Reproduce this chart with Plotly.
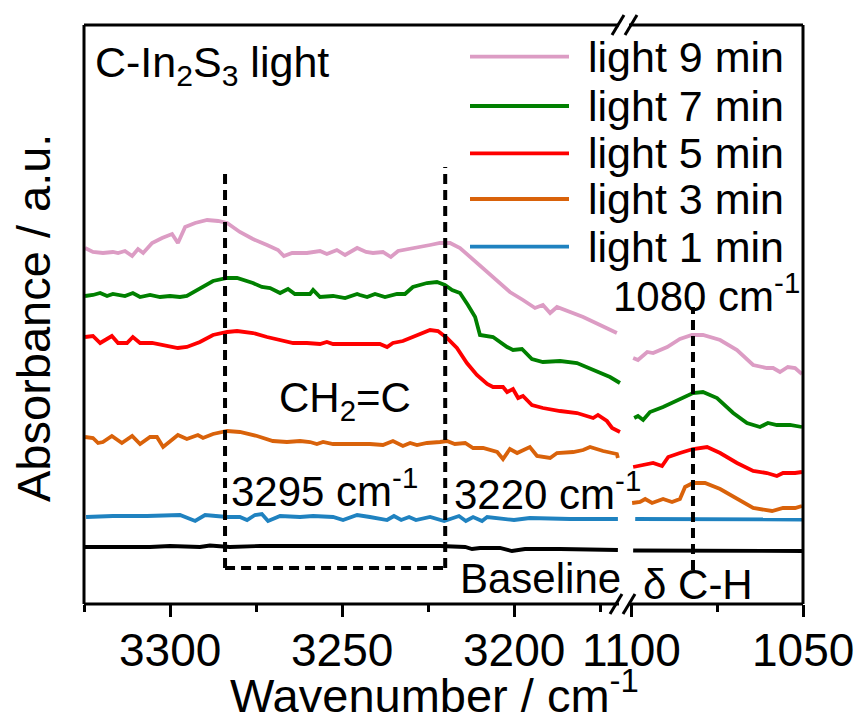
import plotly.graph_objects as go

# ---------------- data (wavenumber / cm-1, absorbance a.u. with offsets) ----------------
# left panel (3325 - 3169 cm-1)
wn9_l = [3324.7, 3322.4, 3319.5, 3316.6, 3315.1, 3313.1, 3311.0, 3309.3, 3307.8, 3305.2, 3302.3, 3299.4,
         3297.7, 3295.6, 3292.7, 3289.2, 3286.0, 3283.4, 3279.7, 3275.9, 3271.8, 3268.6, 3266.9, 3264.5,
         3260.2, 3256.4, 3254.4, 3251.5, 3249.1, 3245.6, 3243.0, 3241.0, 3238.1, 3235.8, 3233.7, 3228.2,
         3224.4, 3221.5, 3218.6, 3215.7, 3210.8, 3206.1, 3201.2, 3197.4, 3193.9, 3191.6, 3189.5, 3187.5,
         3183.7, 3179.9, 3175.0, 3170.1]
ab9_l = [.356, .352, .351, .352, .351, .353, .348, .355, .351, .361, .366, .370, .361, .377, .381, .384,
         .383, .381, .372, .365, .359, .354, .348, .351, .351, .353, .350, .354, .349, .356, .352, .351,
         .352, .347, .353, .356, .359, .361, .361, .356, .341, .326, .312, .304, .296, .299, .291, .297,
         .292, .287, .279, .271]

wn7_l = [3324.7, 3322.4, 3320.3, 3318.3, 3316.6, 3313.1, 3310.8, 3308.7, 3305.8, 3302.9, 3300.0, 3297.1,
         3295.1, 3291.3, 3287.5, 3283.4, 3280.5, 3275.9, 3273.3, 3270.9, 3268.0, 3265.7, 3263.7, 3259.3,
         3258.4, 3256.4, 3252.6, 3249.1, 3245.6, 3244.8, 3242.7, 3240.4, 3237.5, 3234.0, 3231.7, 3229.4,
         3225.3, 3222.4, 3220.1, 3218.0, 3215.7, 3213.4, 3211.3, 3209.9, 3206.1, 3202.0, 3200.3, 3197.7,
         3194.8, 3191.6, 3186.6, 3181.7, 3177.0, 3172.1, 3169.2]
ab7_l = [.308, .309, .311, .308, .310, .308, .311, .307, .309, .307, .308, .307, .308, .316, .323, .326,
         .326, .321, .317, .316, .311, .315, .310, .310, .314, .307, .308, .306, .310, .309, .307, .310,
         .307, .310, .310, .317, .321, .322, .319, .314, .311, .299, .287, .269, .267, .257, .254, .255,
         .245, .242, .243, .241, .234, .227, .221]

wn5_l = [3324.7, 3322.4, 3320.3, 3316.9, 3315.1, 3312.5, 3310.8, 3308.7, 3305.2, 3302.3, 3297.7, 3295.1,
         3291.3, 3287.5, 3283.4, 3280.5, 3275.9, 3271.8, 3268.0, 3264.2, 3260.2, 3256.4, 3254.4, 3252.6,
         3245.6, 3242.7, 3239.0, 3236.9, 3235.2, 3232.3, 3228.2, 3224.4, 3222.1, 3219.5, 3216.6, 3213.7,
         3210.8, 3207.8, 3206.1, 3203.2, 3202.0, 3200.3, 3198.8, 3197.4, 3194.8, 3191.6, 3186.6, 3181.7,
         3177.0, 3175.6, 3173.0, 3171.5, 3169.2]
ab5_l = [.267, .268, .261, .268, .261, .261, .267, .261, .261, .259, .256, .257, .262, .269, .272, .273,
         .271, .267, .264, .261, .261, .260, .262, .260, .260, .260, .260, .257, .261, .263, .269, .274,
         .273, .266, .256, .241, .229, .220, .217, .217, .212, .215, .206, .208, .199, .196, .193, .191,
         .186, .189, .183, .176, .172]

wn3_l = [3324.7, 3322.4, 3320.9, 3319.5, 3316.9, 3314.0, 3311.0, 3308.7, 3305.8, 3303.8, 3302.0, 3297.7,
         3295.1, 3291.9, 3290.4, 3287.5, 3283.4, 3279.7, 3274.7, 3270.1, 3266.0, 3262.2, 3259.3, 3257.3,
         3255.5, 3252.6, 3245.6, 3241.9, 3238.1, 3235.2, 3232.3, 3230.2, 3228.2, 3225.3, 3221.5, 3219.5,
         3217.2, 3214.2, 3211.9, 3209.0, 3204.9, 3203.2, 3201.2, 3199.1, 3195.4, 3193.3, 3189.5, 3187.5,
         3182.8, 3179.9, 3177.9, 3174.1, 3170.1, 3169.8]
ab3_l = [.167, .166, .161, .162, .168, .161, .168, .160, .167, .167, .157, .169, .165, .169, .166, .170,
         .173, .172, .168, .163, .162, .163, .162, .160, .162, .160, .160, .160, .159, .163, .158, .161,
         .159, .161, .162, .163, .160, .161, .156, .156, .152, .145, .155, .151, .157, .148, .146, .151,
         .152, .154, .157, .153, .150, .146]

wn1_l = [3324.4, 3316.6, 3306.7, 3300.0, 3297.1, 3292.7, 3289.8, 3283.4, 3279.7, 3277.6, 3275.3, 3273.3,
         3271.5, 3268.0, 3262.2, 3258.4, 3252.6, 3249.7, 3245.6, 3241.9, 3236.9, 3234.9, 3232.8, 3230.5,
         3228.5, 3224.4, 3220.3, 3216.0, 3214.0, 3211.9, 3209.3, 3207.8, 3200.0, 3195.4, 3183.7, 3169.8]
ab1_l = [.087, .088, .088, .089, .089, .083, .089, .087, .087, .084, .089, .090, .083, .088, .087, .088,
         .087, .084, .089, .087, .084, .088, .084, .087, .084, .087, .083, .088, .083, .087, .083, .087,
         .084, .086, .085, .085]

wn0_l = [3324.7, 3305.8, 3300.0, 3291.3, 3288.4, 3282.6, 3273.8, 3262.2, 3253.5, 3244.8, 3233.1, 3221.5,
         3214.2, 3212.2, 3209.9, 3204.1, 3200.6, 3196.8, 3186.6, 3175.0, 3169.8]
ab0_l = [.057, .057, .058, .057, .0585, .057, .058, .058, .0575, .058, .0575, .058, .057, .055, .056,
         .056, .053, .055, .055, .054, .054]

# right panel (1101 - 1050 cm-1)
wn9_r = [1099.4, 1098.0, 1095.3, 1093.6, 1089.5, 1085.8, 1082.3, 1079.1, 1074.1, 1069.2, 1064.5, 1060.5,
         1058.7, 1056.7, 1054.4, 1052.3, 1050.3]
ab9_r = [.246, .244, .252, .251, .257, .265, .269, .269, .264, .254, .239, .236, .236, .232, .237, .236, .230]

wn7_r = [1099.1, 1098.0, 1096.5, 1094.5, 1090.7, 1085.8, 1082.0, 1079.1, 1075.0, 1070.3, 1066.3, 1062.5,
         1060.2, 1057.6, 1053.8, 1050.3]
ab7_r = [.186, .188, .184, .192, .197, .205, .211, .212, .206, .191, .181, .177, .181, .179, .179, .177]

wn5_r = [1099.4, 1096.5, 1093.6, 1091.0, 1089.2, 1085.8, 1082.0, 1077.9, 1074.1, 1069.2, 1064.5, 1060.5,
         1057.6, 1055.8, 1052.3, 1050.3]
ab5_r = [.137, .139, .141, .138, .147, .151, .155, .157, .151, .141, .133, .131, .128, .131, .131, .132]

wn3_r = [1099.7, 1097.4, 1095.9, 1093.9, 1090.7, 1088.1, 1085.8, 1084.3, 1082.0, 1078.5, 1074.1, 1069.2,
         1064.5, 1059.0, 1055.8, 1052.3, 1050.3]
ab3_r = [.101, .102, .105, .101, .105, .102, .105, .117, .121, .121, .115, .105, .096, .093, .096, .096, .098]

wn1_r = [1098.8, 1090.0, 1080.0, 1065.0, 1050.0]
ab1_r = [.085, .085, .085, .0845, .0845]

wn0_r = [1099.4, 1085.0, 1070.0, 1050.0]
ab0_r = [.0535, .0533, .0532, .053]

series_names = ["Baseline", "light 1 min", "light 3 min", "light 5 min", "light 7 min", "light 9 min"]
series_colors = ["#000000", "#1F82C0", "#D9620A", "#FF0000", "#008000", "#DC9CC4"]

left_x = [wn0_l, wn1_l, wn3_l, wn5_l, wn7_l, wn9_l]
left_y = [ab0_l, ab1_l, ab3_l, ab5_l, ab7_l, ab9_l]
right_x = [wn0_r, wn1_r, wn3_r, wn5_r, wn7_r, wn9_r]
right_y = [ab0_r, ab1_r, ab3_r, ab5_r, ab7_r, ab9_r]

left_ticks = [3300, 3250, 3200]
left_minor = [3325, 3275, 3225, 3175]
right_ticks = [1100, 1050]
right_minor = [1075]
peak_left = [3284, 3220]     # dashed marker positions (as drawn)
peak_right = 1082

LEFT_RANGE = [3325, 3168.9]
RIGHT_RANGE = [1100.9, 1050]
Y_RANGE = [0, 0.579]

FONT = "Liberation Sans, Arial, Helvetica, sans-serif"

# ---------------- figure ----------------
fig = go.Figure()
for xs, ys, nm, col in zip(left_x, left_y, series_names, series_colors):
    fig.add_trace(go.Scatter(x=xs, y=ys, mode="lines", name=nm, showlegend=False,
                             line=dict(color=col, width=3.8), xaxis="x", yaxis="y"))
for xs, ys, nm, col in zip(right_x, right_y, series_names, series_colors):
    fig.add_trace(go.Scatter(x=xs, y=ys, mode="lines", name=nm, showlegend=False,
                             line=dict(color=col, width=3.8), xaxis="x2", yaxis="y2"))

W, H = 864, 717
ML, MR, MT, MB = 84, 61, 25, 113
PW, PH = W - ML - MR, H - MT - MB


def px(x):
    return (x - ML) / PW


def py(y):
    return (H - MB - y) / PH


ax_common = dict(ticks="outside", ticklen=12, tickwidth=3, tickcolor="black", showline=False,
                 showgrid=False, zeroline=False, showticklabels=False)
fig.update_layout(
    width=W, height=H, margin=dict(l=ML, r=MR, t=MT, b=MB),
    paper_bgcolor="white", plot_bgcolor="white", showlegend=False,
    xaxis=dict(domain=[0, px(621)], range=LEFT_RANGE, tickvals=left_ticks,
               minor=dict(tickvals=left_minor, ticks="outside", ticklen=7, tickwidth=3, tickcolor="black"),
               anchor="y", **ax_common),
    xaxis2=dict(domain=[px(628), 1], range=RIGHT_RANGE, tickvals=right_ticks,
                minor=dict(tickvals=right_minor, ticks="outside", ticklen=7, tickwidth=3, tickcolor="black"),
                anchor="y2", **ax_common),
    yaxis=dict(domain=[0, 1], range=Y_RANGE, visible=False, anchor="x"),
    yaxis2=dict(domain=[0, 1], range=Y_RANGE, visible=False, anchor="x2", matches="y"),
)

shapes = []
frame = dict(color="black", width=3)
# frame with axis break
shapes.append(dict(type="line", xref="paper", yref="paper", x0=0, x1=0, y0=0, y1=1, line=frame))
shapes.append(dict(type="line", xref="paper", yref="paper", x0=1, x1=1, y0=0, y1=1, line=frame))
for yy in (0, 1):
    shapes.append(dict(type="line", xref="paper", yref="paper", x0=0, x1=px(619), y0=yy, y1=yy, line=frame))
    shapes.append(dict(type="line", xref="paper", yref="paper", x0=px(629), x1=1, y0=yy, y1=yy, line=frame))
# break marks
for cx, cy in ((618, 25), (631, 25), (616, 604), (629, 604)):
    shapes.append(dict(type="line", xref="paper", yref="paper",
                       x0=px(cx - 6), x1=px(cx + 6), y0=py(cy + 10), y1=py(cy - 10),
                       line=dict(color="black", width=3)))

dash = dict(color="black", width=4, dash="10px,6px")
y_box_bottom = py(568)
shapes.append(dict(type="line", xref="x", yref="paper", x0=peak_left[0], x1=peak_left[0],
                   y0=y_box_bottom, y1=py(170), line=dash))
shapes.append(dict(type="line", xref="x", yref="paper", x0=peak_left[1], x1=peak_left[1],
                   y0=y_box_bottom, y1=py(167), line=dash))
shapes.append(dict(type="line", xref="x", yref="paper", x0=peak_left[0], x1=peak_left[1],
                   y0=y_box_bottom, y1=y_box_bottom, line=dash))
shapes.append(dict(type="line", xref="x2", yref="paper", x0=peak_right, x1=peak_right,
                   y0=py(570), y1=py(307), line=dash))

# custom legend lines
legend_order = [5, 4, 3, 2, 1]
legend_rows = [56.7, 106, 153.3, 199, 246.7]
for idx, ry in zip(legend_order, legend_rows):
    shapes.append(dict(type="line", xref="paper", yref="paper", x0=px(470), x1=px(569),
                       y0=py(ry), y1=py(ry), line=dict(color=series_colors[idx], width=3.8)))

fig.update_layout(shapes=shapes)

ann = []


def text(x, y, s, size=42, xanchor="left", angle=0, xref="paper"):
    ann.append(dict(x=x, y=y, xref=xref, yref="paper", text=s, showarrow=False,
                    xanchor=xanchor, yanchor="middle", textangle=angle,
                    font=dict(family=FONT, size=size, color="black")))


# tick labels placed on the axes' own scales
for t in left_ticks:
    text(t, py(650), str(t), 46, xanchor="center", xref="x")
for t in right_ticks:
    text(t, py(650), str(t), 46, xanchor="center", xref="x2")

for idx, ry in zip(legend_order, legend_rows):
    text(px(586), py(ry), series_names[idx], 43)

text(px(93), py(65), "C-In<sub>2</sub>S<sub>3</sub> light", 43)
text(px(611), py(293), "1080 cm<sup>-1</sup>", 42)
text(px(277), py(401), "CH<sub>2</sub>=C", 42)
text(px(229), py(488), "3295 cm<sup>-1</sup>", 42)
text(px(452), py(491), "3220 cm<sup>-1</sup>", 42)
text(px(458), py(578), "Baseline", 42)
text(px(641), py(584), "δ C-H", 42)
text(px(34), py(318), "Absorbance / a.u.", 47, xanchor="center", angle=-90)
text(px(434), py(692), "Wavenumber / cm<sup>-1</sup>", 47, xanchor="center")

fig.update_layout(annotations=ann)

fig.write_html("out.html")
